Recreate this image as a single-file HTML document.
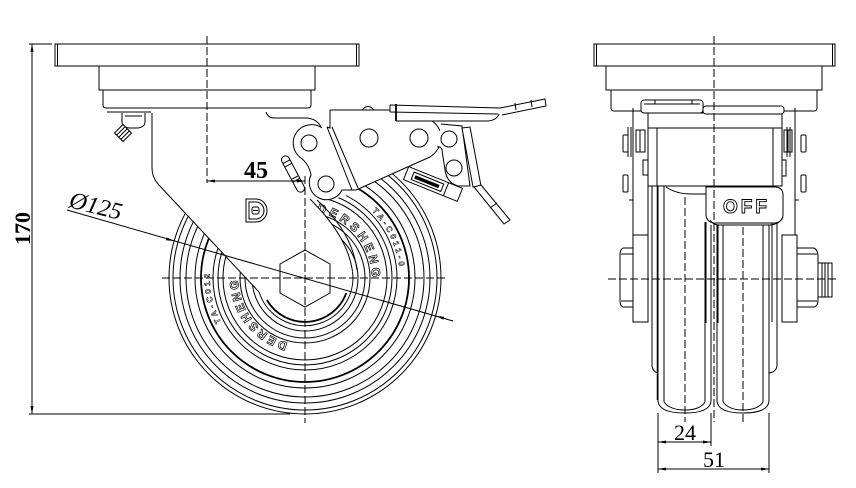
<!DOCTYPE html>
<html><head><meta charset="utf-8"><style>
html,body{margin:0;padding:0;background:#fff;}
svg{display:block;}
</style></head><body>
<svg width="856" height="488" viewBox="0 0 856 488" xmlns="http://www.w3.org/2000/svg" font-family="'Liberation Serif', serif">
<defs>
<path id="arcA" d="M316.6,212 A67,67 0 0 1 371.3,287.3"/>
<path id="arcB" d="M287.7,342.7 A67,67 0 0 1 238.3,272.2"/>
<path id="arcC" d="M372,211 A95,95 0 0 1 383,332"/>
<path id="arcD" d="M221,322 A95,95 0 0 1 215,246"/>
</defs>
<rect width="856" height="488" fill="#fff"/>

<!-- ================= LEFT VIEW ================= -->
<g fill="none" stroke="#000" stroke-width="1">
  <!-- top plate -->
  <rect x="55" y="44" width="304" height="22"/>
  <line x1="57.5" y1="44" x2="57.5" y2="66"/>
  <line x1="356.5" y1="44" x2="356.5" y2="66"/>
  <rect x="99" y="66" width="216" height="24"/>
  <path d="M103,90 L103,105 Q103,108 106,108 L308,108 Q311,108 311,105 L311,90"/>
  <line x1="107" y1="112" x2="266" y2="112"/>

  <!-- wheel circles -->
  <circle cx="305" cy="278" r="136"/>
  <circle cx="305" cy="278" r="132"/>
  <circle cx="305" cy="278" r="125"/>
  <circle cx="305" cy="278" r="119"/>
  <circle cx="305" cy="278" r="110"/>
  <circle cx="305" cy="278" r="104" stroke-width="1.8"/>
  <circle cx="305" cy="278" r="92"/>
  <circle cx="305" cy="278" r="87"/>
  <circle cx="305" cy="278" r="82"/>
  <circle cx="305" cy="278" r="65"/>
  <circle cx="305" cy="278" r="60"/>
  <circle cx="305" cy="278" r="53"/>
</g>

<!-- wheel text -->
<g font-family="'Liberation Sans', sans-serif" font-weight="bold" fill="#fff" stroke="#000" stroke-width="0.7">
  <text font-size="12" letter-spacing="3.5"><textPath href="#arcA">DERSHENG</textPath></text>
  <text font-size="12" letter-spacing="2.5"><textPath href="#arcB">DERSHENG</textPath></text>
  <text font-size="8" letter-spacing="3" stroke-width="0.5"><textPath href="#arcC">TA-C011-0</textPath></text>
  <text font-size="8" letter-spacing="3" stroke-width="0.5"><textPath href="#arcD">TA-C012</textPath></text>
</g>

<!-- fork mask -->
<path d="M151,111 L151,168 Q151,177 157,184 L259,292 A48,48 0 0 0 352.5,271 C349,248 336,225 310,199 L326,201 L345,196 L356,190 L437,153 L472,128 L472,111 Z" fill="#fff" stroke="none"/>

<g fill="none" stroke="#000" stroke-width="1">
  <!-- fork outline -->
  <path d="M152,113 L152,168 Q152,177 158,184 L259,292"/>
  <path d="M266,112 Q268,118 274,118 L307,118 Q317,119 321,127"/>
  <path d="M352.5,271 C349,248 336,225 310,199"/>
  <path d="M357,270 C354,246 341,222 317,200"/>
  <path d="M259.1,292 A48,48 0 0 0 352.5,271.3"/>
  <path d="M266.9,300 A44,44 0 0 0 346.3,293" stroke-width="1.8"/>

  <!-- grease fitting -->
  <path d="M122,113 L122,123 Q124,128 130,128 L138,128 Q145,127 145,122 L145,113" fill="#fff"/>
  <line x1="125" y1="116" x2="142" y2="116"/>
  <g transform="rotate(-45 123 133)">
    <rect x="117" y="127" width="12" height="12" fill="#fff"/>
    <line x1="117" y1="130" x2="129" y2="130"/>
    <line x1="117" y1="133" x2="129" y2="133"/>
    <line x1="117" y1="136" x2="129" y2="136"/>
  </g>

  <!-- D logo -->
  <path d="M246,199 L256,199 A11,11.5 0 0 1 256,222 L246,222 Z"/>
  <path d="M249,202 L256,202 A8,8.5 0 0 1 256,219 L249,219 Z"/>
  <rect x="252" y="207" width="7" height="7" rx="2"/>
  <line x1="253" y1="210.5" x2="258" y2="210.5"/>

  <!-- spring rod -->
  <g transform="rotate(-28 293 174)">
    <rect x="289" y="154" width="8" height="40" rx="4" fill="#fff"/>
    <line x1="289" y1="160" x2="297" y2="160"/>
    <line x1="289" y1="164" x2="297" y2="164"/>
    <line x1="289" y1="178" x2="297" y2="178"/>
    <line x1="289" y1="181" x2="297" y2="181"/>
  </g>

  <!-- link plate -->
  <path d="M322,128 A17,17 0 1 0 301,158 Q309,164 311,175 A17,17 0 1 0 342,190 L356,190" fill="#fff"/>
  <circle cx="309" cy="143" r="8"/>
  <circle cx="326" cy="184" r="8"/>

  <!-- housing -->
  <path d="M330,110 L330,128 L327,127"/>
  <path d="M327,127 L352,190"/>
  <path d="M332,127 L358,188"/>
  <line x1="330" y1="110" x2="390" y2="110"/>
  <path d="M362,110 Q368,103 374,110"/>
  <path d="M356,190 L430,157"/>
  <path d="M432,121 Q442,128 441,140 Q440,150 430,157"/>
  <circle cx="369" cy="138" r="9"/>
  <circle cx="419" cy="138" r="9"/>

  <!-- pedal -->
  <path d="M390,105 L500,108 L545,99 L546,106 L502,115"/>
  <line x1="390" y1="105" x2="390" y2="112"/>
  <line x1="390" y1="112" x2="498" y2="114"/>
  <line x1="396" y1="104" x2="396" y2="121" stroke-width="1.8"/>
  <path d="M396,121 L488,121 Q497,120 499,114"/>
  <line x1="515" y1="103" x2="516" y2="110"/>
  <line x1="531" y1="100" x2="532" y2="107"/>

  <!-- bracket 2 -->
  <path d="M441,124 L462,126 L470,186 L458,186 Q447,183 445,170 L442,150 Q441,146 437,147" fill="#fff"/>
  <circle cx="449" cy="139" r="8"/>
  <circle cx="454" cy="168" r="8"/>

  <!-- lever -->
  <path d="M462,128 L470,127 L481,186 L473,187 Z" fill="#fff"/>
  <path d="M474,187 L481,185 L510,220 L504,224 Z" fill="#fff"/>
  <line x1="490" y1="208" x2="497" y2="203"/>

  <!-- brake pad -->
  <g transform="rotate(22 433 184)">
    <rect x="404" y="177" width="58" height="14" fill="#fff"/>
    <rect x="411" y="180" width="32" height="8"/>
    <rect x="414" y="183" width="25" height="2.5" fill="#000"/>
    <line x1="447" y1="177" x2="447" y2="191"/>
  </g>

  <!-- hex nut -->
  <polygon points="305,250 330,264 330,293 305,307 280,293 280,264" fill="#fff"/>
</g>

<!-- left centerlines -->
<g stroke="#000" stroke-width="1" stroke-dasharray="8 3" fill="none">
  <line x1="207" y1="36" x2="207" y2="183"/>
  <line x1="305" y1="176" x2="305" y2="423"/>
  <line x1="162" y1="278" x2="448" y2="278"/>
</g>

<!-- left dimensions -->
<g stroke="#000" stroke-width="1" fill="none">
  <line x1="29" y1="44" x2="52" y2="44"/>
  <line x1="29" y1="414" x2="290" y2="414"/>
  <line x1="32" y1="44" x2="32" y2="414"/>
  <line x1="207" y1="181" x2="305" y2="181"/>
  <line x1="67" y1="210" x2="453" y2="321"/>
</g>
<g fill="#000" stroke="none">
  <polygon points="32,44 30.5,52 33.5,52"/>
  <polygon points="32,414 30.5,406 33.5,406"/>
  <polygon points="207,181 215,179.5 215,182.5"/>
  <polygon points="305,181 297,179.5 297,182.5"/>
  <polygon points="174,241 166.7,237.4 165.9,240.2"/>
  <polygon points="436,316 443.3,319.6 444.1,316.8"/>
</g>
<text x="256" y="178" font-size="24" font-weight="bold" text-anchor="middle">45</text>
<text transform="translate(30,228.5) rotate(-90)" font-size="22" font-weight="bold" text-anchor="middle">170</text>
<text transform="translate(68,207) rotate(14)" font-size="24" font-style="italic">Ø125</text>

<!-- ================= RIGHT VIEW ================= -->
<g fill="none" stroke="#000" stroke-width="1">
  <rect x="594" y="44" width="241" height="22"/>
  <line x1="596.5" y1="44" x2="596.5" y2="66"/>
  <line x1="832.5" y1="44" x2="832.5" y2="66"/>
  <rect x="606" y="66" width="216" height="24"/>
  <path d="M611,90 L611,108 Q611,111 614,111 L814,111 Q817,111 817,108 L817,90"/>

  <!-- side plates -->
  <line x1="633" y1="108" x2="633" y2="235"/>
  <line x1="795" y1="108" x2="795" y2="235"/>
  <line x1="628" y1="127" x2="628" y2="157"/>
  <line x1="631" y1="127" x2="631" y2="157"/>
  <line x1="787" y1="127" x2="787" y2="157"/>
  <line x1="790" y1="127" x2="790" y2="157"/>
  <rect x="623" y="135" width="5" height="17" rx="1"/>
  <rect x="623" y="175" width="5" height="17" rx="1"/>
  <rect x="801" y="135" width="5" height="17" rx="1"/>
  <rect x="801" y="175" width="5" height="17" rx="1"/>
  <rect x="636" y="130" width="9" height="22"/>
  <line x1="640" y1="130" x2="640" y2="152"/>
  <rect x="784" y="130" width="8" height="22"/>
  <line x1="788" y1="130" x2="788" y2="152"/>
  <rect x="643" y="160" width="5" height="15"/>
  <rect x="782" y="160" width="4" height="16"/>
  <line x1="629" y1="200" x2="633" y2="200"/>
  <line x1="795" y1="200" x2="799" y2="200"/>

  <!-- yoke -->
  <rect x="648" y="113" width="134" height="73" fill="#fff"/>
  <line x1="648" y1="128" x2="782" y2="128"/>
  <line x1="657" y1="128" x2="657" y2="186"/>
  <line x1="773" y1="128" x2="773" y2="186"/>
  <rect x="641" y="100" width="62" height="13" rx="3" fill="#fff"/>
  <line x1="644" y1="104" x2="700" y2="104"/>
  <line x1="655" y1="100" x2="655" y2="104"/>
  <line x1="692" y1="100" x2="692" y2="104"/>
  <rect x="703" y="106" width="81" height="8" rx="3" fill="#fff"/>

  <!-- wheels -->
  <path d="M658,186 L658,401 Q659,413 685,413 Q710,413 711,401 L711,225"/>
  <line x1="657.5" y1="186" x2="657.5" y2="400" stroke-width="1.5"/>
  <line x1="664" y1="186" x2="664" y2="402"/>
  <line x1="705" y1="222" x2="705" y2="402"/>
  <path d="M717,225 L717,401 Q718,413 743,413 Q768,413 769,401 L769,225"/>
  <line x1="723" y1="225" x2="723" y2="402"/>
  <line x1="763" y1="225" x2="763" y2="402"/>
  <path d="M664,402 Q670,410 685,410 Q700,410 705,402"/>
  <path d="M723,402 Q729,410 743,410 Q758,410 763,402"/>
  <path d="M666,187 Q676,194 692,194 L706,194"/>

  <!-- hub / fork legs -->
  <line x1="648" y1="186" x2="648" y2="235"/>
  <path d="M652,186 L652,366 Q653,372 658,373"/>
  <path d="M777,222 L777,366 Q776,372 769,373"/>
  <line x1="772" y1="222" x2="772" y2="322"/>
  <line x1="706" y1="222" x2="706" y2="323"/>
  <line x1="718" y1="225" x2="718" y2="323"/>

  <!-- OFF lever -->
  <path d="M706,187 L776,187 Q783,188 783,195 L783,214 Q783,222 775,223 L714,223 Q706,222 706,214 Z" fill="#fff"/>
  <path d="M710,220 Q712,224 718,225 L770,225 Q780,224 783,217"/>

  <!-- nuts and washers -->
  <rect x="633" y="235" width="15" height="87" fill="#fff"/>
  <path d="M633,248 L623,248 Q620,250 620,254 L620,301 Q620,306 623,307 L633,307 Z" fill="#fff"/>
  <line x1="621" y1="254" x2="633" y2="254"/>
  <line x1="621" y1="301" x2="633" y2="301"/>
  <rect x="782" y="235" width="15" height="87" fill="#fff"/>
  <path d="M797,248 L814,248 Q818,250 818,256 L818,300 Q818,306 814,307 L797,307 Z" fill="#fff"/>
  <line x1="797" y1="254" x2="817" y2="254"/>
  <line x1="797" y1="301" x2="817" y2="301"/>
  <rect x="818" y="263" width="14" height="34" fill="#fff"/>
  <line x1="822" y1="263" x2="822" y2="297"/>
  <line x1="825" y1="263" x2="825" y2="297"/>
  <line x1="828" y1="263" x2="828" y2="297"/>
</g>
<text x="723" y="213" font-family="'Liberation Sans', sans-serif" font-size="19" font-weight="bold" letter-spacing="3" fill="#fff" stroke="#000" stroke-width="0.9">OFF</text>

<!-- right centerlines -->
<g stroke="#000" stroke-width="1" stroke-dasharray="8 3" fill="none">
  <line x1="714" y1="36" x2="714" y2="422"/>
  <line x1="685" y1="197" x2="685" y2="422"/>
  <line x1="743" y1="227" x2="743" y2="422"/>
  <line x1="608" y1="279" x2="838" y2="279"/>
</g>

<!-- right dimensions -->
<g stroke="#000" stroke-width="1" fill="none">
  <line x1="658" y1="413" x2="658" y2="473"/>
  <line x1="711" y1="413" x2="711" y2="446"/>
  <line x1="769" y1="413" x2="769" y2="473"/>
  <line x1="658" y1="442" x2="711" y2="442"/>
  <line x1="658" y1="469" x2="769" y2="469"/>
</g>
<g fill="#000" stroke="none">
  <polygon points="658,442 666,440.5 666,443.5"/>
  <polygon points="711,442 703,440.5 703,443.5"/>
  <polygon points="658,469 666,467.5 666,470.5"/>
  <polygon points="769,469 761,467.5 761,470.5"/>
</g>
<text x="685" y="440" font-size="22" text-anchor="middle">24</text>
<text x="714" y="467" font-size="22" text-anchor="middle">51</text>
</svg>
</body></html>
